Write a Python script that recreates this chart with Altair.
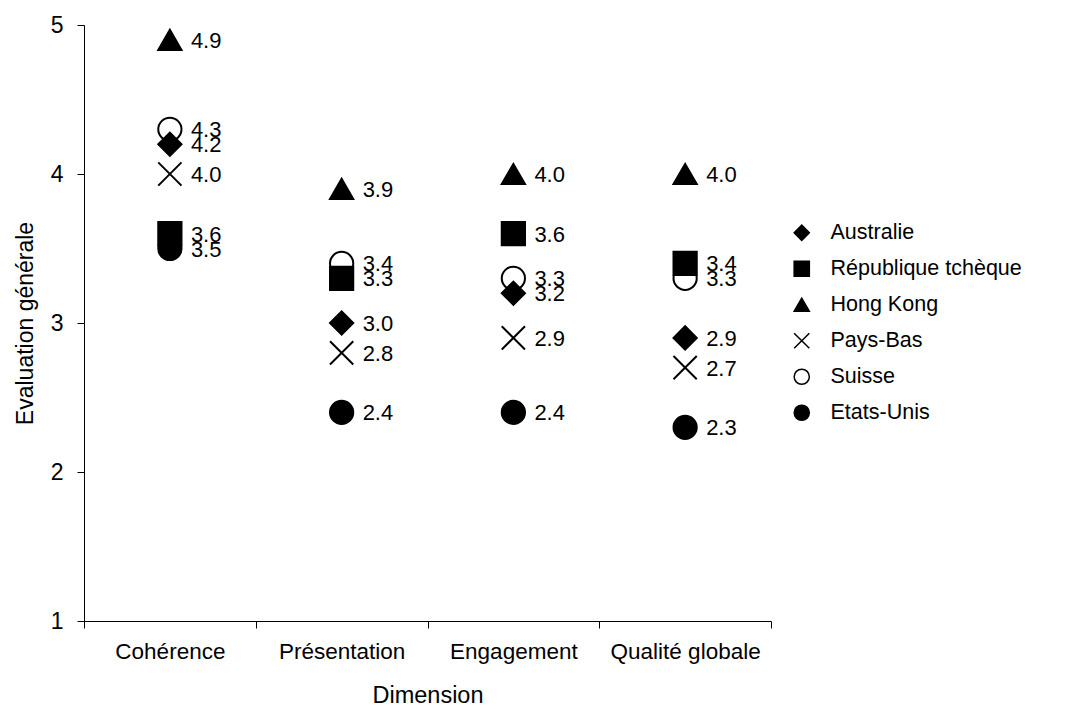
import altair as alt
import pandas as pd

dimensions = ["Cohérence", "Présentation", "Engagement", "Qualité globale"]
countries = ["Australie", "République tchèque", "Hong Kong", "Pays-Bas", "Suisse", "Etats-Unis"]

australie = [4.2, 3.0, 3.2, 2.9]
republique_tcheque = [3.6, 3.3, 3.6, 3.4]
hong_kong = [4.9, 3.9, 4.0, 4.0]
pays_bas = [4.0, 2.8, 2.9, 2.7]
suisse = [4.3, 3.4, 3.3, 3.3]
etats_unis = [3.5, 2.4, 2.4, 2.3]

series = {
    "Australie": australie,
    "République tchèque": republique_tcheque,
    "Hong Kong": hong_kong,
    "Pays-Bas": pays_bas,
    "Suisse": suisse,
    "Etats-Unis": etats_unis,
}

# drawing order: Suisse underneath the others
draw_order = ["Suisse", "Australie", "République tchèque", "Hong Kong", "Pays-Bas", "Etats-Unis"]
rows = []
for i, c in enumerate(draw_order):
    for d, v in zip(dimensions, series[c]):
        rows.append({"Pays": c, "Dimension": d, "Valeur": v, "ordre": i})
df = pd.DataFrame(rows)

FONT = "Liberation Sans"
X_PATH = "M-1,-1L1,1M-1,1L1,-1"

shape_scale = alt.Scale(
    domain=countries,
    range=["diamond", "square", "triangle-up", X_PATH, "circle", "circle"],
)
fill_scale = alt.Scale(
    domain=countries,
    range=["black", "black", "black", "black", "white", "black"],
)
stroke_scale = alt.Scale(
    domain=countries,
    range=["black", "black", "black", "black", "black", "black"],
)

x_enc = alt.X(
    "Dimension:N",
    sort=dimensions,
    scale=alt.Scale(paddingInner=0, paddingOuter=0),
    axis=alt.Axis(
        title="Dimension",
        labelAngle=0,
        tickBand="extent",
        tickSize=7,
        labelPadding=12,
        titlePadding=21,
        labelFontSize=22.5,
        titleFontSize=23.5,
        labelFont=FONT,
        titleFont=FONT,
        titleFontWeight="normal",
        labelColor="black",
        titleColor="black",
        domainColor="black",
        tickColor="black",
        grid=False,
    ),
)
y_enc = alt.Y(
    "Valeur:Q",
    scale=alt.Scale(domain=[1, 5], nice=False, zero=False),
    axis=alt.Axis(
        title="Evaluation générale",
        values=[1, 2, 3, 4, 5],
        format="d",
        tickSize=7,
        labelPadding=14,
        titlePadding=13,
        labelFontSize=23,
        titleFontSize=23,
        labelFont=FONT,
        titleFont=FONT,
        titleFontWeight="normal",
        labelColor="black",
        titleColor="black",
        domainColor="black",
        tickColor="black",
        grid=False,
    ),
)

legend = alt.Legend(
    title=None,
    symbolSize=230,
    symbolStrokeWidth=1.5,
    labelLimit=400,
)

points = alt.Chart(df).mark_point(
    filled=True, size=540, strokeWidth=2, opacity=1
).encode(
    x=x_enc,
    y=y_enc,
    shape=alt.Shape("Pays:N", scale=shape_scale, sort=countries, legend=legend),
    fill=alt.Fill("Pays:N", scale=fill_scale, sort=countries, legend=legend),
    stroke=alt.Stroke("Pays:N", scale=stroke_scale, sort=countries, legend=legend),
    order=alt.Order("ordre:Q"),
)

labels = alt.Chart(df).mark_text(
    align="left", baseline="middle", dx=21, dy=1, fontSize=22, font=FONT, color="black"
).encode(
    x=alt.X("Dimension:N", sort=dimensions),
    y=alt.Y("Valeur:Q"),
    text=alt.Text("Valeur:Q", format=".1f"),
)

chart = (
    alt.layer(points, labels)
    .properties(
        width=687,
        height=596,
        autosize=alt.AutoSizeParams(type="none"),
        padding={"left": 76, "top": 17, "right": 290, "bottom": 90},
    )
    .configure_view(stroke=None)
    .configure_legend(
        orient="none",
        legendX=707,
        legendY=197,
        labelFontSize=21.5,
        labelFont=FONT,
        labelColor="black",
        labelOffset=18,
        rowPadding=13,
        padding=0,
    )
)

chart.save("out.html", embed_options={"renderer": "svg", "actions": False})
